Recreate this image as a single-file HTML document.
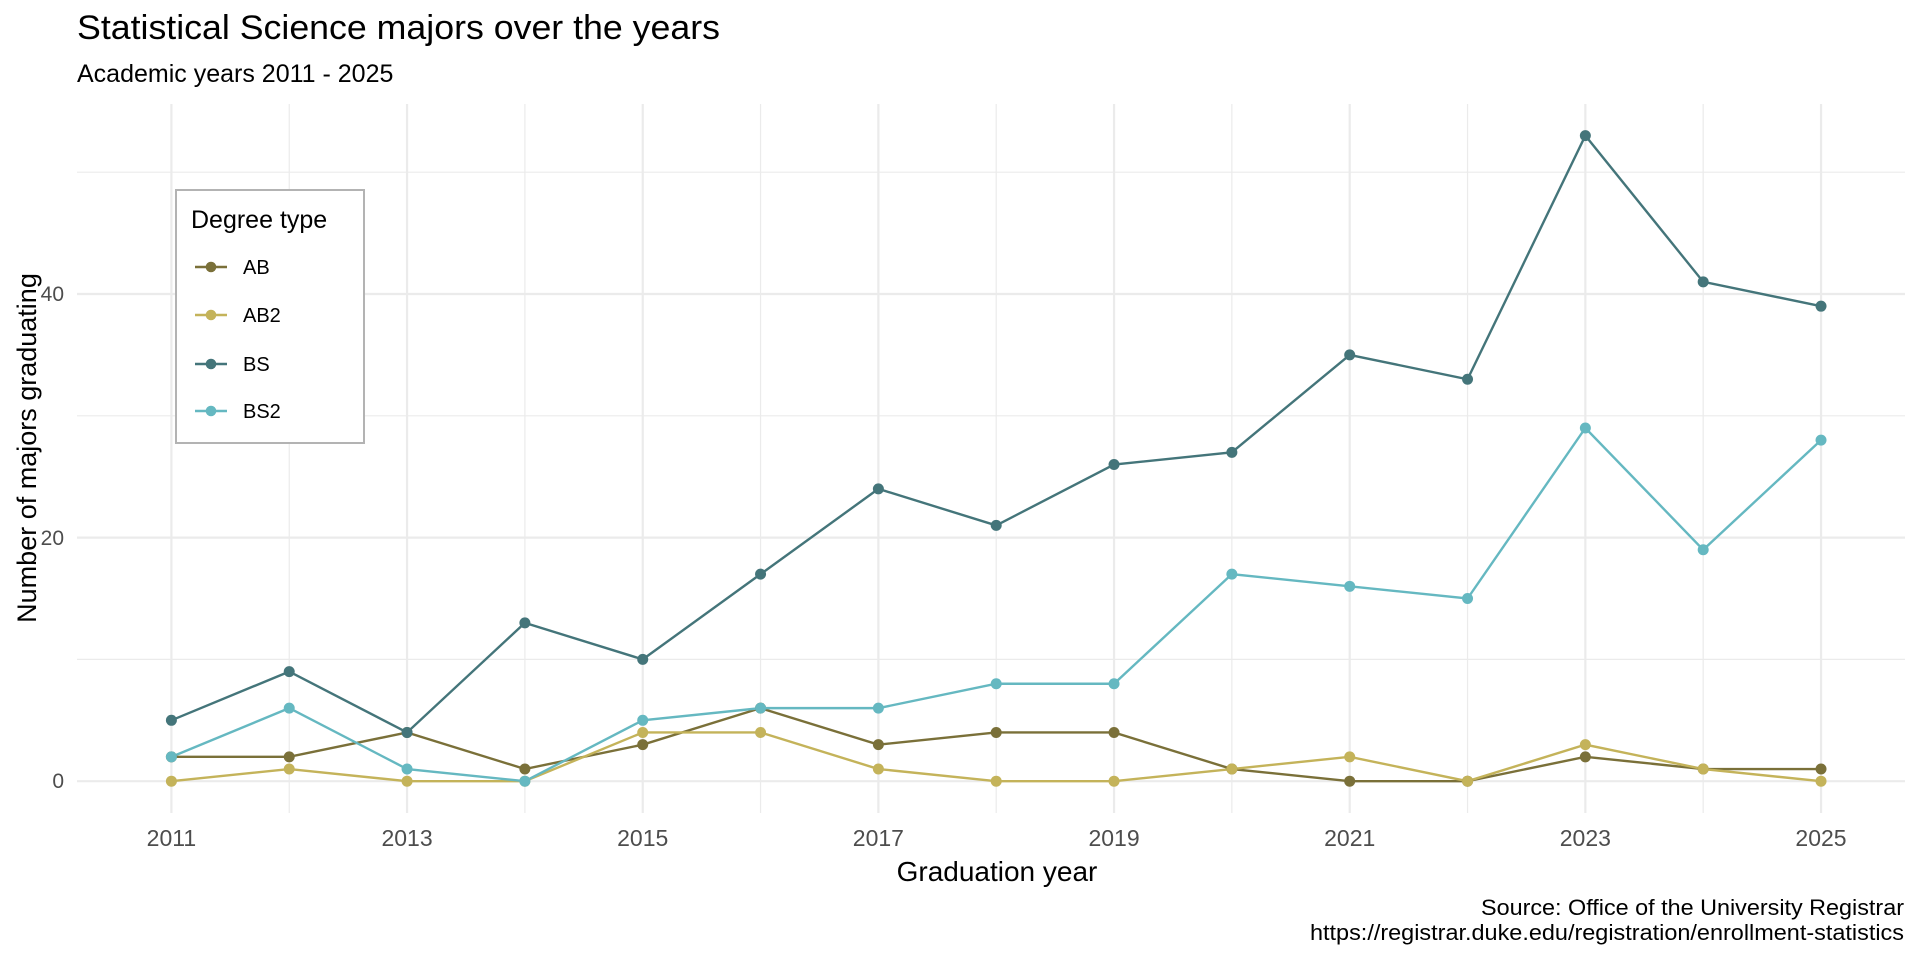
<!DOCTYPE html>
<html><head><meta charset="utf-8"><style>
html,body{margin:0;padding:0;background:#fff}
svg{display:block;font-family:"Liberation Sans",Arial,sans-serif}
</style></head><body>
<svg id="s" width="1920" height="960" viewBox="0 0 1920 960" xmlns="http://www.w3.org/2000/svg">
<rect width="1920" height="960" fill="#fff"/>
<g id="grid"></g>
<g id="series"></g>
<text x="77" y="39" font-size="34" fill="#000" textLength="643" lengthAdjust="spacingAndGlyphs">Statistical Science majors over the years</text>
<text x="77" y="82" font-size="25" fill="#000">Academic years 2011 - 2025</text>
<g font-size="21" fill="#4d4d4d" text-anchor="end">
<text x="64" y="788">0</text>
<text x="64" y="545">20</text>
<text x="64" y="301">40</text>
</g>
<g id="xt" font-size="23" fill="#4d4d4d" text-anchor="middle"></g>
<text x="997" y="881" font-size="28" text-anchor="middle" fill="#000">Graduation year</text>
<text transform="translate(36,448) rotate(-90)" font-size="27" text-anchor="middle" fill="#000">Number of majors graduating</text>
<g font-size="22" text-anchor="end" fill="#000">
<text x="1904" y="915" textLength="423" lengthAdjust="spacingAndGlyphs">Source: Office of the University Registrar</text>
<text x="1904" y="940" textLength="594" lengthAdjust="spacingAndGlyphs">https://registrar.duke.edu/registration/enrollment-statistics</text>
</g>
<rect x="176" y="190" width="188" height="253" fill="#fff" stroke="#b3b3b3" stroke-width="2"/>
<text x="191" y="228" font-size="25" fill="#000">Degree type</text>
<g font-size="20" fill="#000">
<line x1="195" y1="267" x2="227" y2="267" stroke="#7a7039" stroke-width="2.4"/><circle cx="211" cy="267" r="5.3" fill="#7a7039"/><text x="243" y="274">AB</text>
<line x1="195" y1="315" x2="227" y2="315" stroke="#c4b35a" stroke-width="2.4"/><circle cx="211" cy="315" r="5.3" fill="#c4b35a"/><text x="243" y="322">AB2</text>
<line x1="195" y1="364" x2="227" y2="364" stroke="#44757a" stroke-width="2.4"/><circle cx="211" cy="364" r="5.3" fill="#44757a"/><text x="243" y="371">BS</text>
<line x1="195" y1="411" x2="227" y2="411" stroke="#65b8c1" stroke-width="2.4"/><circle cx="211" cy="411" r="5.3" fill="#65b8c1"/><text x="243" y="418">BS2</text>
</g>
</svg>
<script>
var ns="http://www.w3.org/2000/svg";
function X(y){return 171.4+(y-2011)*117.83;}
function Y(v){return 781.2-v*12.18;}
function el(p,t,a){var e=document.createElementNS(ns,t);for(var k in a)e.setAttribute(k,a[k]);p.appendChild(e);return e;}
var g=document.getElementById('grid');
[10,30,50].forEach(function(v){el(g,'line',{x1:77,x2:1905,y1:Y(v),y2:Y(v),stroke:'#ebebeb','stroke-width':1.2});});
[0,20,40].forEach(function(v){el(g,'line',{x1:77,x2:1905,y1:Y(v),y2:Y(v),stroke:'#ebebeb','stroke-width':2.2});});
for(var y=2011;y<=2025;y++){el(g,'line',{x1:X(y),x2:X(y),y1:104,y2:813,stroke:'#ebebeb','stroke-width':(y%2?2.2:1.2)});}
var xt=document.getElementById('xt');
for(var y=2011;y<=2025;y+=2){var t=el(xt,'text',{x:X(y),y:846});t.textContent=y;}
var data=[
['#7a7039',[2,2,4,1,3,6,3,4,4,1,0,0,2,1,1]],
['#c4b35a',[0,1,0,0,4,4,1,0,0,1,2,0,3,1,0]],
['#44757a',[5,9,4,13,10,17,24,21,26,27,35,33,53,41,39]],
['#65b8c1',[2,6,1,0,5,6,6,8,8,17,16,15,29,19,28]]];
var s=document.getElementById('series');
data.forEach(function(d){
 var pts=d[1].map(function(v,i){return X(2011+i)+','+Y(v);}).join(' ');
 el(s,'polyline',{points:pts,fill:'none',stroke:d[0],'stroke-width':2.4});
});
data.forEach(function(d){
 d[1].forEach(function(v,i){el(s,'circle',{cx:X(2011+i),cy:Y(v),r:5.5,fill:d[0]});});
});
</script>
</body></html>
